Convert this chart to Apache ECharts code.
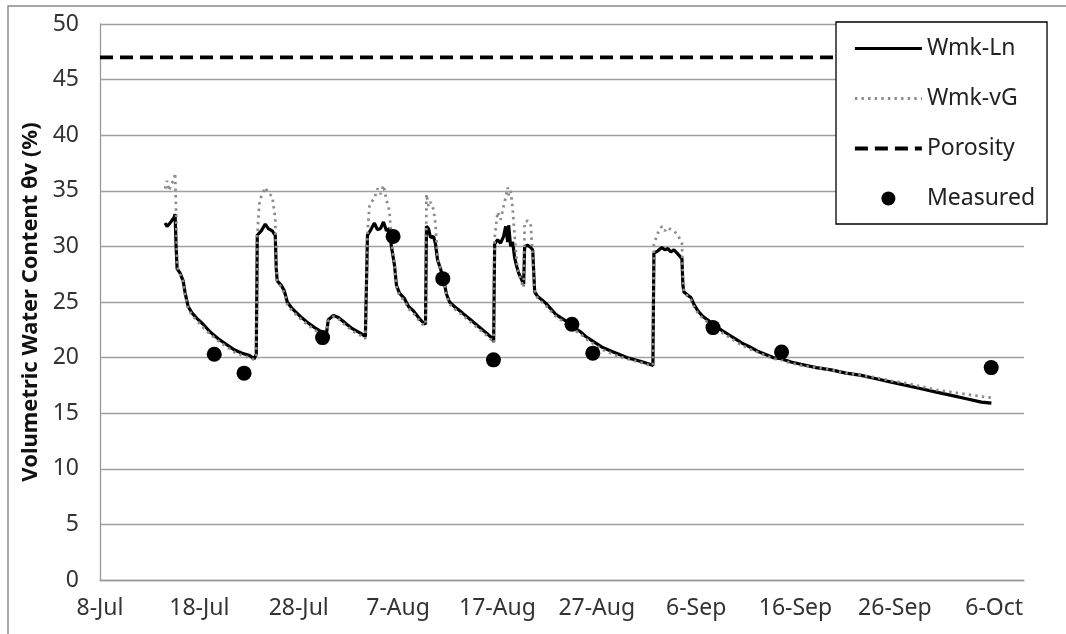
<!DOCTYPE html>
<html><head><meta charset="utf-8">
<script src="https://cdn.jsdelivr.net/npm/echarts@6/dist/echarts.min.js"></script>
<style>html,body{margin:0;padding:0;background:#fff}#c{width:1066px;height:634px}</style>
</head><body><div id="c"></div>
<script>
// x values are days since 8-Jul
const xTickLabels = ['8-Jul','18-Jul','28-Jul','7-Aug','17-Aug','27-Aug','6-Sep','16-Sep','26-Sep','6-Oct'];
const seriesNames = ['Wmk-Ln','Wmk-vG','Porosity','Measured'];
const yAxisTitle = 'Volumetric Water Content θv (%)';

const days = [6.55,6.75,6.96,7.16,7.46,7.56,7.66,7.76,8.06,8.37,8.57,8.87,9.27,9.78,10.38,11.09,11.90,12.70,13.51,14.31,15.02,15.52,15.73,
15.83,16.03,16.23,16.63,16.94,17.34,17.64,17.74,17.84,18.25,18.55,18.85,19.35,20.16,20.97,21.77,22.48,22.78,22.98,23.49,23.99,24.70,25.40,26.21,26.71,26.81,
26.92,27.12,27.32,27.62,27.92,28.23,28.53,28.83,29.13,29.33,29.64,29.84,30.14,30.65,31.05,31.55,32.06,32.46,32.76,
32.86,33.06,33.27,33.57,33.77,33.97,34.27,34.58,34.88,35.18,35.79,36.49,37.30,38.10,38.91,39.52,39.62,
39.72,40.02,40.32,40.62,40.83,41.03,41.13,41.33,41.53,41.73,41.94,42.14,42.34,42.64,
42.74,43.04,43.35,43.55,43.75,44.05,44.46,44.86,45.36,45.87,46.37,46.88,47.38,47.88,48.39,48.89,49.40,49.90,50.60,51.41,52.22,53.02,53.83,54.64,55.34,55.65,
55.75,56.15,56.55,56.85,57.16,57.46,57.76,58.17,58.57,58.67,58.77,59.17,59.48,59.78,60.18,60.69,61.29,61.90,62.50,63.21,63.91,64.62,65.32,66.13,66.94,67.74,68.55,69.56,70.56,
72.08,73.59,75.10,76.61,78.13,79.64,81.15,82.66,84.17,85.69,87.20,88.71,89.72];

const wmkLn = [32.1,31.8,32.0,31.9,32.6,32.9,30.0,28.0,27.6,26.9,25.8,24.6,24.0,23.5,23.0,22.3,21.7,21.2,20.7,20.4,20.2,19.9,20.3,
31.0,31.2,31.4,32.0,31.6,31.4,31.0,28.0,26.9,26.5,26.0,25.0,24.4,23.7,23.1,22.6,22.2,22.1,23.4,23.8,23.6,23.1,22.6,22.2,21.9,21.8,
31.0,31.3,31.6,32.1,31.5,31.6,32.2,31.4,31.6,30.0,28.3,26.5,25.8,25.3,24.6,24.2,23.6,23.2,23.0,
31.8,31.6,30.8,30.9,30.2,28.8,28.0,27.0,25.7,25.0,24.5,24.0,23.4,22.8,22.2,21.7,21.4,
30.2,30.6,30.3,30.9,31.8,30.4,31.9,30.0,30.4,29.0,28.2,27.6,27.2,26.6,
30.0,30.1,29.9,29.7,25.9,25.5,25.2,24.9,24.4,23.9,23.6,23.3,23.0,22.6,22.3,21.9,21.6,21.3,20.9,20.6,20.3,20.0,19.8,19.6,19.4,19.3,
29.4,29.6,29.9,29.7,29.8,29.5,29.7,29.3,28.9,26.5,25.9,25.6,25.4,24.8,24.2,23.7,23.3,22.9,22.5,22.1,21.7,21.3,21.0,20.6,20.3,20.0,19.9,19.6,19.4,
19.1,18.9,18.6,18.4,18.1,17.8,17.5,17.2,16.9,16.6,16.3,16.0,15.9];

const wmkVG = [35.2,35.9,35.0,35.6,36.0,36.6,33.0,28.2,27.5,26.8,25.6,24.4,23.8,23.3,22.7,22.1,21.5,21.0,20.5,20.2,20.0,19.8,20.2,
31.0,33.8,34.5,35.3,34.8,34.5,32.5,28.5,26.9,26.3,25.8,24.8,24.2,23.5,22.9,22.4,22.0,22.0,23.3,23.7,23.5,22.9,22.4,22.0,21.7,21.6,
31.2,33.6,34.0,34.3,35.2,34.7,35.5,34.2,33.2,30.5,28.3,26.4,25.6,25.1,24.4,24.0,23.4,23.0,22.9,
34.7,33.6,34.0,33.3,32.0,29.0,27.9,26.9,25.6,24.8,24.3,23.8,23.2,22.6,22.0,21.5,21.3,
30.8,33.1,32.4,33.6,34.4,35.3,34.6,35.0,33.4,31.0,28.6,27.6,27.0,26.3,
32.2,32.3,32.0,32.1,26.0,25.3,25.0,24.7,24.2,23.7,23.4,23.1,22.8,22.4,22.1,21.7,21.4,21.1,20.7,20.4,20.1,19.9,19.7,19.5,19.3,19.3,
30.2,31.2,31.8,31.4,31.7,31.5,31.4,31.0,30.3,27.0,25.9,25.5,25.2,24.6,24.0,23.5,23.1,22.7,22.3,21.9,21.5,21.1,20.8,20.5,20.2,19.9,19.8,19.5,19.3,
19.1,18.9,18.6,18.4,18.2,17.9,17.7,17.4,17.1,16.9,16.7,16.5,16.4];

const porosityDays = [0, 93];
const porosity = [47, 47];

const measuredDays = [11.5,14.5,22.4,29.5,34.5,39.6,47.5,49.6,61.7,68.6,89.7];
const measured = [20.3,18.6,21.8,30.9,27.1,19.8,23.0,20.4,22.7,20.5,19.1];

const pair = (xs, ys) => xs.map((x, i) => [x, ys[i]]);
const FONT = 'Noto Sans';
const hiddenSymbol = {color: 'rgba(0,0,0,0)', borderWidth: 0, opacity: 0};
const lnStyle = {color: '#000', width: 3.2};
const vgStyle = {color: '#8c8c8c', width: 2.8, type: [2.4, 4.2]};
const porStyle = {color: '#000', width: 3.8, type: [13, 7]};

const chart = echarts.init(document.getElementById('c'), null, {renderer: 'canvas'});
chart.setOption({
  animation: false,
  backgroundColor: '#fff',
  graphic: [{type: 'rect', shape: {x: 8, y: 6, width: 1200, height: 800},
    style: {fill: 'none', stroke: '#8a8a8a', lineWidth: 1.5}, silent: true, z: -1}],
  grid: {left: 100, right: 42, top: 24, bottom: 54, containLabel: false},
  legend: {
    orient: 'vertical', left: 836, top: 22,
    padding: [15, 12, 14, 17],
    itemWidth: 67, itemHeight: 14, itemGap: 27,
    backgroundColor: '#fff', borderColor: '#000', borderWidth: 1.3,
    textStyle: {fontFamily: FONT, fontSize: 23, color: '#222'},
    data: [
      {name: seriesNames[0], itemStyle: hiddenSymbol, lineStyle: lnStyle},
      {name: seriesNames[1], itemStyle: hiddenSymbol, lineStyle: vgStyle},
      {name: seriesNames[2], itemStyle: hiddenSymbol, lineStyle: porStyle},
      {name: seriesNames[3], icon: 'circle'}
    ]
  },
  xAxis: {
    type: 'value', min: 0, max: 93, interval: 10,
    axisLine: {show: true, lineStyle: {color: '#9a9a9a', width: 1.3}},
    axisTick: {show: false},
    splitLine: {show: false},
    axisLabel: {
      fontFamily: FONT, fontSize: 23, color: '#333', margin: 17, showMaxLabel: false,
      formatter: v => { const i = Math.round(v / 10); return (Math.abs(v - i * 10) < 1e-6 && xTickLabels[i]) ? xTickLabels[i] : ''; }
    }
  },
  yAxis: {
    type: 'value', min: 0, max: 50, interval: 5,
    name: yAxisTitle, nameLocation: 'middle', nameGap: 57,
    nameTextStyle: {fontFamily: FONT, fontSize: 22, fontWeight: 'bold', color: '#111'},
    axisLine: {show: true, lineStyle: {color: '#9a9a9a', width: 1.3}},
    axisTick: {show: false},
    splitLine: {show: true, lineStyle: {color: '#a0a0a0', width: 1.3}},
    axisLabel: {fontFamily: FONT, fontSize: 23, color: '#333', margin: 21}
  },
  series: [
    {name: seriesNames[0], type: 'line', data: pair(days, wmkLn), symbol: 'none', showSymbol: false,
      lineStyle: lnStyle, itemStyle: {color: '#000'}},
    {name: seriesNames[1], type: 'line', data: pair(days, wmkVG), symbol: 'none', showSymbol: false,
      lineStyle: vgStyle, itemStyle: {color: '#8c8c8c'}},
    {name: seriesNames[2], type: 'line', data: pair(porosityDays, porosity), symbol: 'none', showSymbol: false,
      lineStyle: porStyle, itemStyle: {color: '#000'}},
    {name: seriesNames[3], type: 'scatter', data: pair(measuredDays, measured), symbol: 'circle', symbolSize: 15,
      itemStyle: {color: '#000', opacity: 1}, z: 5}
  ]
});
</script></body></html>
